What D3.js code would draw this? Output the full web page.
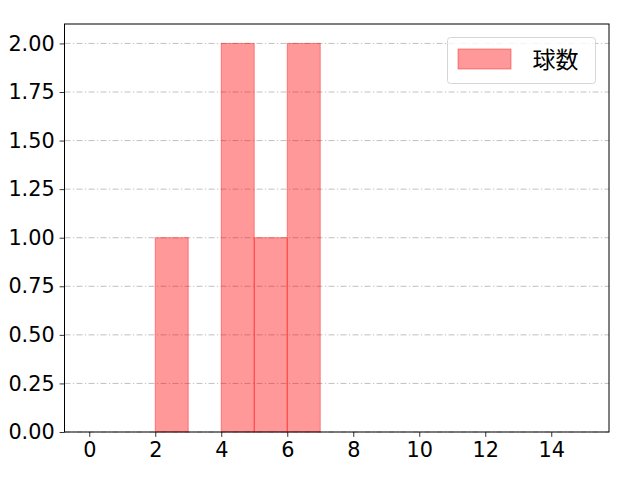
<!DOCTYPE html>
<html>
<head>
<meta charset="utf-8">
<script src="https://cdn.jsdelivr.net/npm/d3@7"></script>
<style>
  body { margin: 0; background: #fff; }
  text { font-family: "DejaVu Sans", "Noto Sans CJK JP", sans-serif; }
</style>
</head>
<body>
<div id="chart"></div>
<script>
// histogram bins (width 1) and counts
const binStarts = [2, 4, 5, 6];
const binCounts = [1, 2, 1, 2];
const binWidth = 1;
const xTicks = [0, 2, 4, 6, 8, 10, 12, 14];
const yTicks = [0, 0.25, 0.5, 0.75, 1, 1.25, 1.5, 1.75, 2];
const seriesName = "球数";

const width = 640, height = 480;
const margin = { top: 24, right: 31, bottom: 48, left: 64.5 };
const fontSize = 20.8;

const x = d3.scaleLinear().domain([-0.75, 15.75]).range([margin.left, width - margin.right]);
const y = d3.scaleLinear().domain([0, 2.1]).range([height - margin.bottom, margin.top]);

const svg = d3.select("#chart").append("svg")
  .attr("width", width).attr("height", height);

// grid
svg.append("g")
  .selectAll("line")
  .data(yTicks)
  .join("line")
  .attr("x1", x.range()[0]).attr("x2", x.range()[1])
  .attr("y1", d => y(d)).attr("y2", d => y(d))
  .attr("stroke", "#b0b0b0")
  .attr("stroke-width", 0.8)
  .attr("stroke-dasharray", "6,2.4,1.2,2.4");

// bars
const bins = binStarts.map((s, i) => ({ x0: s, x1: s + binWidth, n: binCounts[i] }));
svg.append("g")
  .selectAll("rect")
  .data(bins)
  .join("rect")
  .attr("x", d => x(d.x0))
  .attr("width", d => x(d.x1) - x(d.x0))
  .attr("y", d => y(d.n))
  .attr("height", d => y(0) - y(d.n))
  .attr("fill", "rgba(255,0,0,0.4)")
  .attr("stroke", "rgba(255,0,0,0.4)")
  .attr("stroke-width", 1);

// axes
const xAxis = svg.append("g")
  .attr("transform", `translate(0,${y(0)})`)
  .call(d3.axisBottom(x).tickValues(xTicks).tickSize(4.9).tickPadding(4.9).tickFormat(d3.format("d")));
const yAxis = svg.append("g")
  .attr("transform", `translate(${x.range()[0]},0)`)
  .call(d3.axisLeft(y).tickValues(yTicks).tickSize(4.9).tickPadding(4.9).tickFormat(d3.format(".2f")));
[xAxis, yAxis].forEach(g => {
  g.select(".domain").remove();
  g.selectAll("text").attr("font-size", fontSize).attr("fill", "#000")
    .style("font-family", '"DejaVu Sans", sans-serif');
  g.selectAll("line").attr("stroke", "#000").attr("stroke-width", 0.8);
});

// frame
svg.append("rect")
  .attr("x", x.range()[0]).attr("y", y.range()[1])
  .attr("width", x.range()[1] - x.range()[0])
  .attr("height", y.range()[0] - y.range()[1])
  .attr("fill", "none").attr("stroke", "#000").attr("stroke-width", 1);

// legend
const lg = svg.append("g").attr("transform", "translate(447.5,37.5)");
lg.append("rect")
  .attr("width", 148).attr("height", 46).attr("rx", 3)
  .attr("fill", "rgba(255,255,255,0.8)")
  .attr("stroke", "#d6d6d6").attr("stroke-width", 1);
lg.append("rect")
  .attr("x", 10.5).attr("y", 11.5).attr("width", 53).attr("height", 20)
  .attr("fill", "rgba(255,0,0,0.4)")
  .attr("stroke", "rgba(255,0,0,0.4)");
lg.append("text")
  .attr("x", 85).attr("y", 30)
  .attr("font-size", 23)
  .style("font-family", '"Noto Sans CJK JP", sans-serif')
  .text(seriesName);
</script>
</body>
</html>
